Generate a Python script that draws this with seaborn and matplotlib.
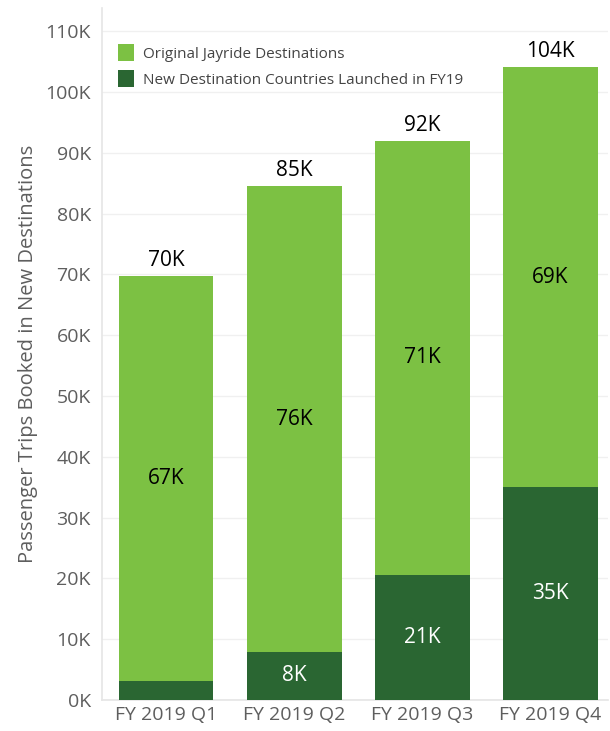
import matplotlib
matplotlib.use("Agg")
import matplotlib.pyplot as plt
import seaborn as sns
import pandas as pd
from matplotlib.patches import Patch
from matplotlib.ticker import FuncFormatter, MultipleLocator

# ---- data (thousands of trips) ----
quarters = ["FY 2019 Q1", "FY 2019 Q2", "FY 2019 Q3", "FY 2019 Q4"]
new_dest = [3.1, 7.9, 20.6, 35.0]
orig_dest = [66.6, 76.6, 71.3, 69.1]
total_labels = ["70K", "85K", "92K", "104K"]
orig_labels = ["67K", "76K", "71K", "69K"]
new_labels = ["", "8K", "21K", "35K"]
series_names = ["Original Jayride Destinations", "New Destination Countries Launched in FY19"]

LIGHT = "#7cc143"
DARK = "#2a6632"

sns.set_theme(style="white")
plt.rcParams["font.family"] = ["Open Sans", "DejaVu Sans"]

df = pd.DataFrame({"quarter": quarters,
                   "new": [v * 1000 for v in new_dest],
                   "orig": [v * 1000 for v in orig_dest]})
df["total"] = df["new"] + df["orig"]

fig = plt.figure(figsize=(6.1, 7.31), dpi=100)
ax = fig.add_axes([0.167, 0.0424, 0.83, 0.9466])

sns.barplot(data=df, x="quarter", y="total", color=LIGHT, saturation=1,
            width=0.74, ax=ax, zorder=2, linewidth=0, edgecolor="none")
sns.barplot(data=df, x="quarter", y="new", color=DARK, saturation=1,
            width=0.74, ax=ax, zorder=3, linewidth=0, edgecolor="none")

ax.set_ylim(0, 113800)
ax.set_xlim(-0.5, 3.45)
ax.yaxis.set_major_locator(MultipleLocator(10000))
ax.yaxis.set_major_formatter(FuncFormatter(lambda v, p: f"{int(round(v/1000))}K"))
ax.grid(axis="y", color="#f0f0f0", linewidth=1, zorder=0)
ax.set_axisbelow(True)

for s in ["top", "right"]:
    ax.spines[s].set_visible(False)
ax.spines["left"].set_color("#e6e6e6")
ax.spines["bottom"].set_color("#e6e6e6")

ax.tick_params(axis="both", length=0, labelsize=14, colors="#5e5e5e")
ax.tick_params(axis="y", pad=8)
ax.tick_params(axis="x", pad=4)
ax.set_xlabel("")
ax.set_ylabel("Passenger Trips Booked in New Destinations", fontsize=14.5,
              color="#5e5e5e", labelpad=5)

for i in range(len(quarters)):
    n = df["new"][i]
    t = df["total"][i]
    ax.text(i, t + 900, total_labels[i], ha="center", va="bottom",
            fontsize=15, color="black")
    ax.text(i, (n + t) / 2, orig_labels[i], ha="center", va="center",
            fontsize=15, color="black")
    if new_labels[i]:
        ax.text(i, n / 2, new_labels[i], ha="center", va="center",
                fontsize=15, color="white")

handles = [Patch(facecolor=LIGHT, edgecolor="none"),
           Patch(facecolor=DARK, edgecolor="none")]
ax.legend(handles, series_names, loc="upper left", bbox_to_anchor=(0.004, 0.968),
          frameon=False, fontsize=11, handlelength=1.1, handleheight=1.35,
          handletextpad=0.55, labelspacing=0.55, labelcolor="#444444")

fig.savefig("out.png", dpi=100)
